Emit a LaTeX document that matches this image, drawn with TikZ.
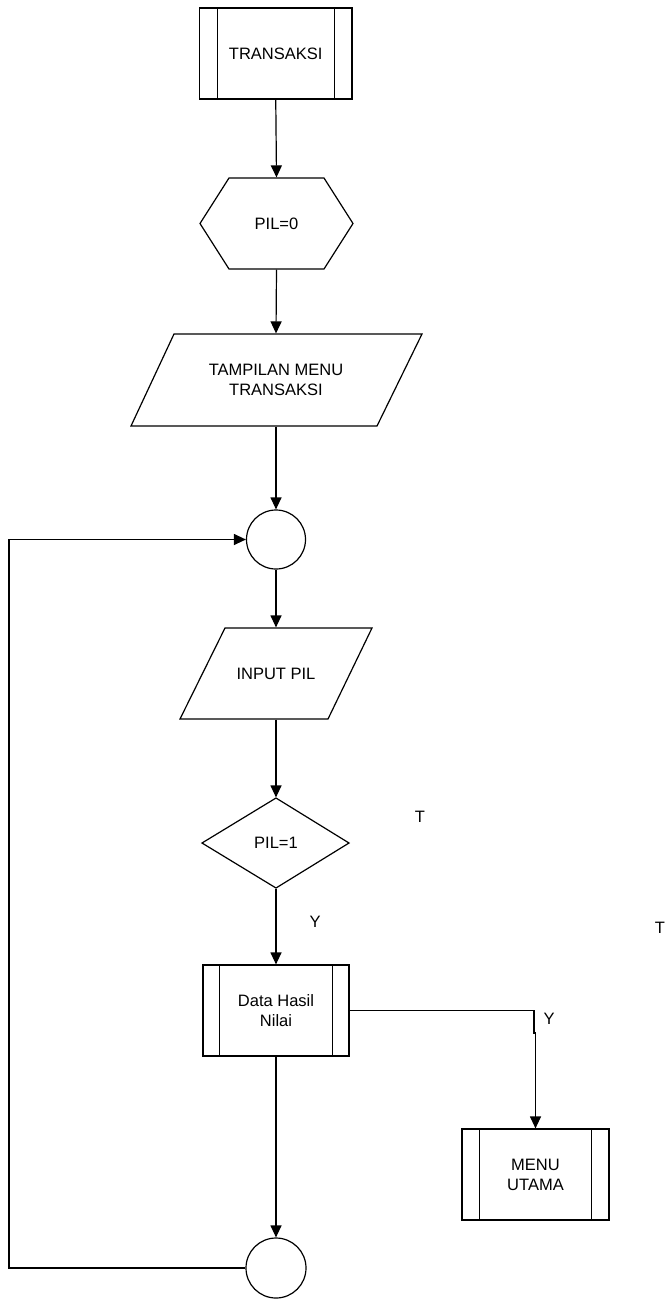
\documentclass[tikz,border=0pt]{standalone}
\usepackage{fontspec}
\setmainfont{Liberation Sans}
\usetikzlibrary{arrows.meta}
\begin{document}
\begin{tikzpicture}[x=1pt,y=-1pt,
  line width=1.2pt,
  every node/.style={font=\fontsize{16.5}{20}\selectfont, align=center, inner sep=0pt},
  pp/.style={draw, minimum width=146pt, minimum height=91pt},
  hold/.style={draw=none},
  conn/.style={draw, circle, minimum size=59pt},
  arr/.style={-{Triangle[length=12pt,width=11pt]}},
  lbl/.style={font=\fontsize{16.5}{20}\selectfont}
]
\useasboundingbox (0,0) rectangle (670,1302);

% TRANSAKSI (predefined process)
\node[pp, minimum width=152.5pt] (trans) at (275.75,53.5) {TRANSAKSI};
\draw ([xshift=18.5pt]trans.north west) -- ([xshift=18.5pt]trans.south west);
\draw ([xshift=-18.5pt]trans.north east) -- ([xshift=-18.5pt]trans.south east);

% PIL=0 hexagon
\node[hold, minimum width=153pt, minimum height=91pt] (hex) at (276.5,223.5) {PIL=0};
\draw (200,223.5) -- (229,178) -- (324,178) -- (353,223.5) -- (324,269) -- (229,269) -- cycle;

% TAMPILAN MENU TRANSAKSI parallelogram
\node[hold, minimum width=200pt, minimum height=92pt] (tampil) at (276,380) {TAMPILAN MENU\\TRANSAKSI};
\draw (174,334) -- (422,334) -- (377,426) -- (131,426) -- cycle;

% connector 1
\node[conn] (c1) at (276,539.5) {};

% INPUT PIL parallelogram
\node[hold, minimum width=150pt, minimum height=91pt] (inp) at (276,673.5) {INPUT PIL};
\draw (225,628) -- (372,628) -- (328,719) -- (180,719) -- cycle;

% PIL=1 diamond
\node[hold, minimum width=147pt, minimum height=90pt] (dec) at (276,843) {PIL=1};
\draw (202,843) -- (276,798) -- (349,843) -- (276,888) -- cycle;

% Data Hasil Nilai
\node[pp] (data) at (276,1010.5) {Data Hasil\\Nilai};
\draw ([xshift=17pt]data.north west) -- ([xshift=17pt]data.south west);
\draw ([xshift=-17pt]data.north east) -- ([xshift=-17pt]data.south east);

% MENU UTAMA
\node[pp, minimum width=147pt] (menu) at (535.5,1174.5) {MENU\\UTAMA};
\draw ([xshift=18pt]menu.north west) -- ([xshift=18pt]menu.south west);
\draw ([xshift=-18pt]menu.north east) -- ([xshift=-18pt]menu.south east);

% connector 2
\node[conn, minimum size=60pt] (c2) at (276,1268) {};

% labels
\node[lbl] (t1) at (420,817) {T};
\node[lbl] (y1) at (315,922) {Y};
\node[lbl] (t2) at (660,928) {T};
\node[lbl] (y2) at (549,1019) {Y};

% connectors
\draw[arr] (trans.south) -- (hex.north);
\draw[arr] (hex.south) -- (tampil.north);
\draw[arr] (tampil.south) -- (c1.north);
\draw[arr] (c1.south) -- (inp.north);
\draw[arr] (inp.south) -- (dec.north);
\draw[arr] (dec.south) -- (data.north);
\draw[arr] (data.south) -- (c2.north);

\coordinate (j1) at (534,1010.5);
\coordinate (j2) at (534,1033);
\coordinate (j3) at (535.5,1033);
\draw[arr] (data.east) -- (j1) -- (j2) -- (j3) -- (menu.north);

\coordinate (l1) at (9,1268);
\coordinate (l2) at (9,539.5);
\draw[arr] (c2.west) -- (l1) -- (l2) -- (c1.west);
\end{tikzpicture}
\end{document}
